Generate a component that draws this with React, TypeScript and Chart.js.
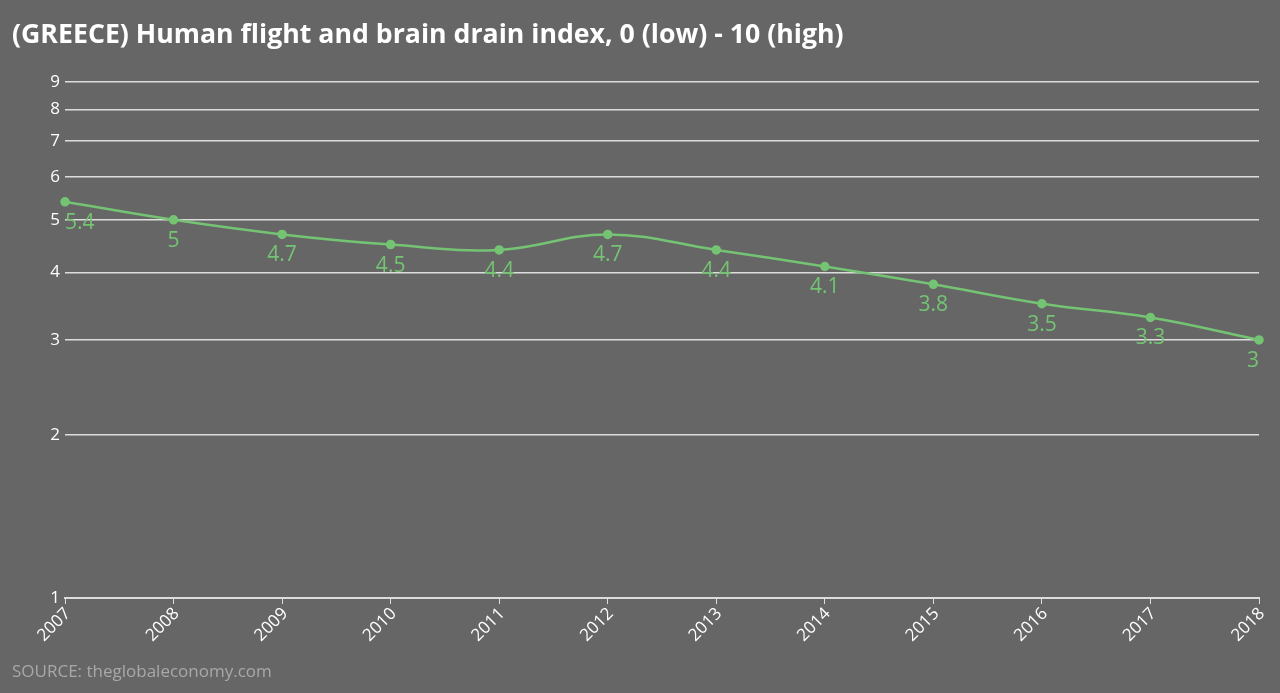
import React, { useEffect, useRef } from "react";
import { Chart, registerables } from "chart.js";

Chart.register(...registerables);

const years = ["2007", "2008", "2009", "2010", "2011", "2012", "2013", "2014", "2015", "2016", "2017", "2018"];
const values = [5.4, 5, 4.7, 4.5, 4.4, 4.7, 4.4, 4.1, 3.8, 3.5, 3.3, 3];
const yTickValues = [1, 2, 3, 4, 5, 6, 7, 8, 9];
const titleText = "(GREECE) Human flight and brain drain index, 0 (low) - 10 (high)";
const sourceText = "SOURCE: theglobaleconomy.com";

const LINE = "#74c474";
const BG = "#666666";
const FAMILY = "Open Sans, sans-serif";

export default function App() {
  const ref = useRef<HTMLCanvasElement>(null);
  useEffect(() => {
    document.body.style.margin = "0";
    Chart.defaults.font.family = FAMILY;
    Chart.defaults.font.size = 16;
    const textPlugin = {
      id: "texts",
      afterDatasetsDraw(chart: any) {
        const ctx = chart.ctx;
        const meta = chart.getDatasetMeta(0);
        const area = chart.chartArea;
        ctx.save();
        ctx.fillStyle = LINE;
        ctx.font = "21px " + FAMILY;
        ctx.textAlign = "center";
        ctx.textBaseline = "middle";
        meta.data.forEach((pt: any, i: number) => {
          const txt = String(values[i]);
          const w = ctx.measureText(txt).width;
          let x = pt.x;
          if (x - w / 2 < area.left) x = area.left + w / 2;
          if (x + w / 2 > area.right) x = area.right - w / 2;
          ctx.fillText(txt, x, pt.y + 21);
        });
        ctx.restore();
      },
      afterDraw(chart: any) {
        const ctx = chart.ctx;
        const xs = chart.scales.x;
        const bottom = chart.chartArea.bottom;
        ctx.save();
        ctx.fillStyle = "#ffffff";
        ctx.font = "17px " + FAMILY;
        ctx.textAlign = "right";
        ctx.textBaseline = "middle";
        years.forEach((lab, i) => {
          const x = xs.getPixelForTick(i);
          ctx.save();
          ctx.translate(x + 3, bottom + 13);
          ctx.rotate(-Math.PI / 4);
          ctx.fillText(lab, 0, 0);
          ctx.restore();
        });
        ctx.textAlign = "left";
        ctx.font = "bold 26.7px " + FAMILY;
        ctx.fillText(titleText, 12, 35);
        ctx.fillStyle = "#a8a8a8";
        ctx.font = "17px " + FAMILY;
        ctx.fillText(sourceText, 12, 672);
        ctx.restore();
      },
    };
    const chart = new Chart(ref.current!, {
      type: "line",
      data: {
        labels: years,
        datasets: [
          {
            data: values,
            borderColor: LINE,
            backgroundColor: LINE,
            borderWidth: 2.5,
            pointRadius: 3.5,
            pointHoverRadius: 3.5,
            tension: 0.4,
          },
        ],
      },
      options: {
        animation: false,
        responsive: false,
        maintainAspectRatio: false,
        layout: { padding: { top: 57, right: 21, left: 0, bottom: 0 } },
        plugins: { legend: { display: false }, tooltip: { enabled: false }, title: { display: false } },
        scales: {
          x: {
            grid: { display: true, drawOnChartArea: false, tickLength: 6, color: "#dddddd" },
            border: { display: true, color: "#dddddd", width: 2 },
            ticks: {
              display: false,
              autoSkip: false,
            },
            afterFit(scale: any) {
              scale.height = 95;
            },
          },
          y: {
            type: "logarithmic",
            min: 1,
            max: 10,
            afterBuildTicks(scale: any) {
              scale.ticks = yTickValues.map((v) => ({ value: v }));
            },
            afterFit(scale: any) {
              scale.width = 65;
            },
            grid: { color: "#dddddd", lineWidth: 1.5, drawTicks: false },
            border: { display: false },
            ticks: {
              color: "#ffffff",
              font: { size: 17, family: FAMILY },
              padding: 5,
              callback: (v: any) => String(v),
            },
          },
        },
      },
      plugins: [textPlugin],
    });
    return () => chart.destroy();
  }, []);
  return (
    <div style={{ position: "fixed", left: 0, top: 0, width: 1280, height: 693, background: BG }}>
      <canvas ref={ref} width={1280} height={693} />
    </div>
  );
}
